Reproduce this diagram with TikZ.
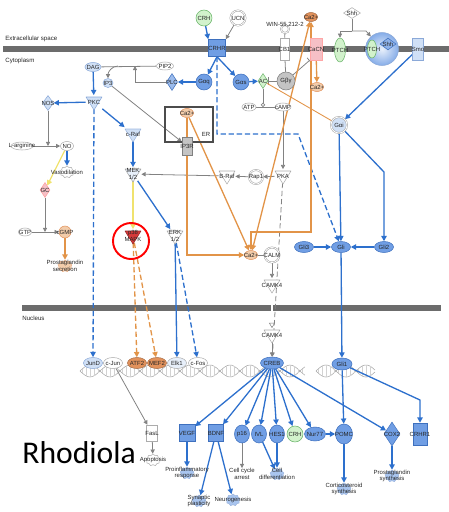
\documentclass[tikz,border=0pt]{standalone}
\usepackage{fontspec}
\setmainfont{Liberation Sans}
\newfontfamily\titlefont{Carlito}
\usetikzlibrary{shapes.geometric,shapes.symbols,arrows.meta,backgrounds}

\definecolor{membgray}{RGB}{108,108,108}
\definecolor{eblue}{RGB}{45,112,205}
\definecolor{egray}{RGB}{130,130,130}
\definecolor{eorange}{RGB}{226,148,72}
\definecolor{eyellow}{RGB}{240,226,110}
\definecolor{nblue}{RGB}{112,158,228}
\definecolor{nbluedk}{RGB}{62,112,190}
\definecolor{nlblue}{RGB}{208,224,246}
\definecolor{ngreen}{RGB}{210,242,204}
\definecolor{ngreendk}{RGB}{105,180,105}
\definecolor{norange}{RGB}{226,146,92}
\definecolor{nlorange}{RGB}{242,204,170}
\definecolor{npink}{RGB}{246,192,198}
\definecolor{nred}{RGB}{214,58,58}
\definecolor{ngray}{RGB}{196,196,196}
\definecolor{helixgray}{RGB}{165,165,165}

\newcommand{\lbl}{\fontsize{3.4}{3.9}\selectfont}
% kinase: inverted triangle body with its label node on top
\newcommand{\kinase}[5]{%
  \filldraw[kinbody, #4] (#2-8,#3-6) -- (#2+8,#3-6) -- (#2,#3+7) -- cycle;
  \node[txt, minimum width=16*0.02cm, minimum height=13*0.02cm] (#1) at (#2,#3-1) {#5};}

\begin{document}
\begin{tikzpicture}[x=0.02cm, y=-0.02cm,
  txt/.style={font=\lbl, inner sep=0pt, align=center, text=black!85},
  nlab/.style={label={[txt]center:#1}},
  mol/.style={inner sep=0pt, line width=0.3pt},
  ell/.style args={#1/#2}{mol, ellipse, minimum width=#1*0.02cm, minimum height=#2*0.02cm},
  box/.style args={#1/#2}{mol, rectangle, minimum width=#1*0.02cm, minimum height=#2*0.02cm},
  dia/.style args={#1/#2}{mol, diamond, minimum width=#1*0.02cm, minimum height=#2*0.02cm},
  circ/.style={mol, circle, minimum size=#1*0.02cm},
  ring/.style={mol, circle, minimum size=#1*0.02cm, fill=white, draw=gray!70, double=white, double distance=0.45pt},
  cld/.style args={#1/#2}{mol, cloud, cloud puffs=9, cloud ignores aspect, minimum width=#1*0.02cm, minimum height=#2*0.02cm},
  wh/.style={fill=white, draw=gray!65},
  lb/.style={fill=nlblue, draw=nbluedk!60},
  bl/.style={fill=nblue, draw=nbluedk},
  gr/.style={fill=ngreen, draw=ngreendk},
  orl/.style={fill=nlorange, draw=norange},
  ord/.style={fill=norange, draw=norange!75!black},
  kinbody/.style={line width=0.3pt, line join=round},
  be/.style={draw=eblue, line width=0.75pt, -{Triangle[length=3pt,width=3pt]}},
  ge/.style={draw=egray, line width=0.45pt, -{Triangle[length=2.4pt,width=2.4pt]}},
  oe/.style={draw=eorange, line width=0.75pt},
  ye/.style={draw=eyellow, line width=0.75pt, -{Triangle[length=3pt,width=3pt]}},
  dsh/.style={dash pattern=on 3pt off 1.6pt},
  helix/.style={draw=helixgray, line width=0.3pt},
]
\useasboundingbox (0,0) rectangle (449,512);

% compartment labels
\node[txt, anchor=west, font=\fontsize{3.5}{4}\selectfont] (ecs) at (5,39) {Extracellular space};
\node[txt, anchor=west, font=\fontsize{3.5}{4}\selectfont] (cyt) at (5,61) {Cytoplasm};
\node[txt, anchor=west, font=\fontsize{3.5}{4}\selectfont] (nuc) at (22,318) {Nucleus};

% ---- plasma membrane and receptors
\node[circ=16, gr, nlab=CRH] (crhA) at (204,18) {};
\node[ring=15, nlab=UCN] (ucn) at (238,18) {};
\node[box=17/17, bl, nlab=CRHR] (crhr) at (217,48) {};
\node[ring=8] (win) at (285,29) {};
\node[txt] (winl) at (285,25) {WIN-55,212-2};
\node[box=9/22, wh, nlab=CB1] (cb1) at (284.5,49) {};
\node[ell=13/9, ord, nlab=Ca2+] (caT) at (311,17) {};
\node[box=12/22, fill=npink, draw=red!35, nlab=CaCN] (cacn) at (316,49) {};
\node[ell=11/24, gr, nlab=PTCH] (ptchA) at (340,50) {};
\node[circ=33, inner color=nblue!15, outer color=nblue!85, draw=nbluedk!60] (sph) at (382,49) {};
\node[ell=9/18, gr, nlab=PTCH] (ptchB) at (372,49) {};
\node[dia=16/12, fill=nblue!80, draw=nbluedk, nlab=Shh] (shhB) at (388,44) {};
\node[dia=17/11, wh, nlab=Shh] (shhT) at (352,13) {};
\coordinate (shhj) at (352,31);
\node[box=11/22, lb, nlab=Smo] (smo) at (418,49) {};

% ---- cytoplasm, upper part
\node[ell=16/9, lb, nlab=DAG] (dag) at (93,67) {};
\node[ell=17/8, wh, nlab=PIP2] (pip2) at (165,66) {};
\coordinate (pipj) at (118,66);
\coordinate (plcj) at (135,66);
\node[ell=10/9, lb, nlab=IP3] (ip3) at (108,83) {};
\node[dia=11/17, fill=nblue!70, draw=nbluedk, nlab=PLC] (plc) at (172,82) {};
\node[circ=16, bl, nlab=Gαq] (gaq) at (204,82) {};
\kinase{pkc}{94}{103}{fill=nlblue, draw=nbluedk!60}{PKC}
\node[dia=11/15, lb, nlab=NOS] (nos) at (48,103) {};
\node[circ=16, bl, nlab=Gαs] (gas) at (241,82) {};
\node[dia=10/15, gr, nlab=AC] (ac) at (263,81) {};
\node[circ=18, fill=ngray, draw=gray, nlab=Gβγ] (gbg) at (286,81) {};
\node[ell=13/9, orl, nlab=Ca2+] (caM) at (317,87) {};
\node[ell=14/8, wh, nlab=ATP] (atp) at (249,107) {};
\node[ell=16/8, wh, nlab=cAMP] (camp) at (283,107) {};
\coordinate (acj) at (263,107);
\node[ring=16, fill=nlblue, nlab=Gαi] (gai) at (339,125) {};

% endoplasmic reticulum
\node[mol, draw=gray!60!black, line width=1.1pt, minimum width=48*0.02cm, minimum height=35*0.02cm] (er) at (189,124.5) {};
\node[txt] (erl) at (206,134) {ER};
\node[ell=13/9, orl, nlab=Ca2+] (caER) at (187,113) {};
\node[box=10/18, fill=ngray, draw=gray, nlab=IP3R] (ip3r) at (187,146) {};

% ---- nitric oxide branch
\node[ell=22/8, wh, nlab=L-arginine] (larg) at (22,146) {};
\node[ell=13/9, wh, nlab=NO] (no) at (67,146) {};
\coordinate (noj) at (48,146);
\node[cld=14/12, fill=white, draw=gray!60, nlab=Vasodilation] (vaso) at (67,172) {};
\node[dia=10/15, fill=npink, draw=red!40, nlab=GC] (gc) at (45,190) {};
\node[ell=13/8, wh, nlab=GTP] (gtp) at (25,232) {};
\node[circ=12, orl, nlab=cGMP] (cgmp) at (65,232) {};
\coordinate (gcj) at (45,232);
\node[cld=14/12, fill=nlorange, draw=norange!70, nlab={Prostaglandin\\secretion}] (pgsec) at (65,266) {};

% ---- kinase cascades
\kinase{craf}{133}{135}{fill=nlblue, draw=nbluedk!50}{c-Raf}
\kinase{mek}{133}{175}{fill=nlblue!50, draw=gray!70}{MEK\\1/2}
\kinase{p38}{133}{237}{fill=nred, draw=nred!70!black}{p38\\MAPK}
\kinase{erk}{175}{237}{fill=white, draw=gray!65}{ERK\\1/2}
\kinase{braf}{227}{177}{fill=white, draw=gray!65}{B-Raf}
\node[ring=14, nlab=Rap1] (rap1) at (256,177) {};
\kinase{pka}{283}{177}{fill=white, draw=gray!65}{PKA}
\node[mol, circle, draw=red, line width=1.1pt, minimum size=36*0.02cm] (hl) at (131,241) {};

% ---- calcium / CaMK and Gli
\node[ell=13/9, orl, nlab=Ca2+] (caB) at (251,255) {};
\node[ring=15, nlab=CALM] (calm) at (272,255) {};
\kinase{camk}{272}{286}{fill=white, draw=gray!65}{CAMK4}
\kinase{camkn}{272}{336}{fill=white, draw=gray!65}{CAMK4}
\node[ell=23/12, bl, nlab=CREB] (creb) at (272,363) {};
\node[ell=19/11, bl, nlab=Gli3] (gli3) at (304,247) {};
\node[ell=19/11, bl, nlab=Gli] (gli) at (341,247) {};
\node[ell=19/11, bl, nlab=Gli2] (gli2) at (384,247) {};
\node[ell=20/12, bl, nlab=Gli1] (gli1) at (342,364) {};
\coordinate (crhrj1) at (217,134);
\coordinate (crhrj2) at (298,134);
\coordinate (gaij) at (384,172);
\coordinate (catj1) at (311,232);
\coordinate (catj2) at (251,232);
\coordinate (erj) at (187,255);
\coordinate (glij) at (420,400);

% ---- nuclear transcription factors
\node[ell=19/11, lb, nlab=JunD] (jund) at (93,363) {};
\node[ell=19/11, wh, nlab=c-Jun] (ejun) at (113,363) {};
\node[ell=19/11, ord, nlab=ATF2] (atf2) at (137,363) {};
\node[ell=19/11, ord, nlab=MEF2] (mef2) at (157,363) {};
\node[ell=19/11, fill=nlblue!50, draw=gray!65, nlab=Elk1] (elk1) at (177,363) {};
\node[ell=19/11, wh, nlab=c-Fos] (cfos) at (198,363) {};

% ---- target genes and outcomes
\node[box=11/16, wh, nlab=FasL] (fasl) at (152,433) {};
\node[cld=14/12, fill=white, draw=gray!60, nlab=Apoptosis] (apop) at (153,460) {};
\node[box=16/17, bl, nlab=VEGF] (vegf) at (187,433) {};
\node[box=15/17, bl, nlab=BDNF] (bdnf) at (216,433) {};
\node[cld=14/12, fill=nblue!60, draw=nbluedk!50, nlab={Proinflammatory\\response}] (proinf) at (187,473) {};
\node[cld=14/12, fill=nblue!60, draw=nbluedk!50, nlab={Synaptic\\plasticity}] (syn) at (199,501) {};
\node[cld=14/12, fill=nblue!60, draw=nbluedk!50, nlab=Neurogenesis] (neuro) at (233,500) {};
\node[ell=15/18, bl, nlab=p16] (p16) at (242,434) {};
\node[ell=15/18, bl, nlab=IVL] (ivl) at (259,434) {};
\node[ell=15/18, bl, nlab=HES1] (hes1) at (277,434) {};
\node[circ=16, gr, nlab=CRH] (crhB) at (295,434) {};
\node[ell=21/14, bl, nlab=Nur77] (nur77) at (315,434) {};
\node[ell=17/20, bl, nlab=POMC] (pomc) at (344,434) {};
\node[dia=16/24, bl, nlab=COX2] (cox2) at (392,434) {};
\node[box=14/22, bl, nlab=CRHR1] (crhr1) at (420,434) {};
\node[txt] (cca) at (242,474) {Cell cycle\\arrest};
\node[cld=14/12, fill=nblue!60, draw=nbluedk!50, nlab={Cell\\differentiation}] (cdiff) at (277,474) {};
\node[cld=14/12, fill=nblue!60, draw=nbluedk!50, nlab={Corticosteroid\\synthesis}] (cort) at (344,489) {};
\node[cld=14/12, fill=nblue!60, draw=nbluedk!50, nlab={Prostaglandin\\synthesis}] (pgsyn) at (392,476) {};

\node[anchor=base west, inner sep=0pt, font=\titlefont\fontsize{18}{20}\selectfont] (rho) at (22,463) {Rhodiola};

\begin{scope}[on background layer]
  % membranes
  \fill[membgray] (3,46) rectangle (449,52);
  \fill[membgray] (22,305) rectangle (441,311);
  % DNA double helix
  \foreach \a/\b in {80/305, 316/375} {
    \draw[helix] plot[domain=\a:\b, samples=90, smooth] (\x,{371+6*sin(9*(\x-\a))});
    \draw[helix] plot[domain=\a:\b, samples=90, smooth] (\x,{371-6*sin(9*(\x-\a))});
  }
  \foreach \xx in {82,86,...,302} \draw[helix, draw=helixgray!50] (\xx,{371+6*sin(9*(\xx-80))}) -- (\xx,{371-6*sin(9*(\xx-80))});
  \foreach \xx in {318,322,...,372} \draw[helix, draw=helixgray!50] (\xx,{371+6*sin(9*(\xx-316))}) -- (\xx,{371-6*sin(9*(\xx-316))});

  % receptor signalling
  \draw[be] (crhA) -- (crhr.north west);
  \draw[ge] (ucn) -- (crhr.north east);
  \draw[be] (crhr.south) -- (gaq);
  \draw[be] (crhr.south) -- (gas);
  \draw[be, dsh] (crhr.south) -- (crhrj1) -- (crhrj2) -- (gli);
  \draw[ge, -] (win) -- (cb1);
  \draw[ge, -] (cb1) -- (gbg);
  \draw[ge, -{Bar[width=4pt]}] (gbg) -- (ac);
  \draw[ge, -{Bar[width=4pt]}] (gbg) -- (cacn.south west);
  \draw[be] (gas) -- (ac);
  \draw[ge, -{Circle[open, length=2.4pt]}] (ac) -- (acj);
  \draw[ge, -] (atp) -- (camp);
  \draw[ge] (camp) -- (pka);
  \draw[ge] (pka) -- (rap1);
  \draw[ge] (rap1) -- (braf);
  \draw[ge] (braf) -- (mek);
  \draw[ge, dsh] (pka) -- (creb);
  \draw[oe, line width=0.5pt] (ac) -- (gai);

  % phospholipid branch
  \draw[ge, -] (pip2) -- (dag);
  \draw[ge] (pipj) to[out=180, in=90] (ip3);
  \draw[ge] (plc) -- (plcj |- plc) -- (plcj);
  \draw[be] (gaq) -- (plc);
  \draw[be] (dag) -- (pkc);
  \draw[be] (pkc) -- (nos);
  \draw[be] (pkc) -- (craf);
  \draw[be, dsh] (pkc) -- (jund);
  \draw[ge] (ip3) -- (ip3r);

  % nitric oxide
  \draw[ge] (nos) -- (noj);
  \draw[ge] (larg) -- (no);
  \draw[be] (no) -- (vaso);
  \draw[ye] (no) -- (gc);
  \draw[ge] (gc) -- (gcj);
  \draw[ge] (gtp) -- (cgmp);
  \draw[oe, -{Triangle[length=3pt,width=3pt]}] (cgmp) -- (pgsec);

  % MAPK
  \draw[be] (craf) -- (mek);
  \draw[ye] (mek) -- (p38);
  \draw[be] (mek) -- (erk);
  \draw[oe, dsh, -{Triangle[length=3pt,width=3pt]}] (p38) -- (atf2);
  \draw[oe, dsh, -{Triangle[length=3pt,width=3pt]}] (p38) -- (mef2);
  \draw[be] (erk) -- (elk1);
  \draw[be, dsh] (erk) -- (cfos);

  % calcium
  \draw[oe, {Triangle[length=3pt,width=3pt]}-{Triangle[length=3pt,width=3pt]}] (caT) -- (caB);
  \draw[oe, {Triangle[length=3pt,width=3pt]}-{Triangle[length=3pt,width=3pt]}] (caT) -- (catj1) -- (catj2) -- (caB);
  \draw[oe, -{Triangle[length=3pt,width=3pt]}] (cacn) -- (caM);
  \draw[oe, -{Triangle[length=3pt,width=3pt]}] (caER) -- (caB);
  \draw[oe, -{Triangle[length=3pt,width=3pt]}] (caER) -- (erj) -- (caB);
  \draw[ge, -] (caB) -- (calm);
  \draw[ge] (calm) -- (camk);
  \draw[draw=egray, line width=0.3pt, double=white, double distance=0.9pt, -{Triangle[open, length=3pt, width=3.4pt]}] (camk) -- (camkn);
  \draw[ge] (camkn) -- (creb);

  % hedgehog / Gli
  \draw[ge, -] (shhT) -- (shhj);
  \draw[ge] (shhj) -| (ptchA);
  \draw[ge] (shhj) -- ++(14,0) -- (sph);
  \draw[be] (smo) -- (gai);
  \draw[be] (gai) -- (gli);
  \draw[be] (gai) -- (gaij) -- (gli2);
  \draw[be] (gli3) -- (gli);
  \draw[be] (gli2) -- (gli);
  \draw[be] (gli) -- (gli1);

  % transcriptional targets
  \foreach \n in {vegf,bdnf,p16,ivl,hes1,crhB,nur77,cox2} \draw[be] (creb) -- (\n);
  \draw[be] (gli1) -- (pomc);
  \draw[be] (gli1) -- (glij) -- (crhr1);
  \draw[ge] (ejun) -- (fasl);
  \draw[ge] (fasl) -- (apop);
  \draw[be] (vegf) -- (proinf);
  \draw[be] (bdnf) -- (syn);
  \draw[be] (bdnf) -- (neuro);
  \draw[ge] (p16) -- (cca);
  \draw[be] (ivl) -- (cdiff);
  \draw[be] (hes1) -- (cdiff);
  \draw[be] (nur77) -- (pomc);
  \draw[be] (pomc) -- (cort);
  \draw[be] (cox2) -- (pgsyn);
\end{scope}
\end{tikzpicture}
\end{document}
